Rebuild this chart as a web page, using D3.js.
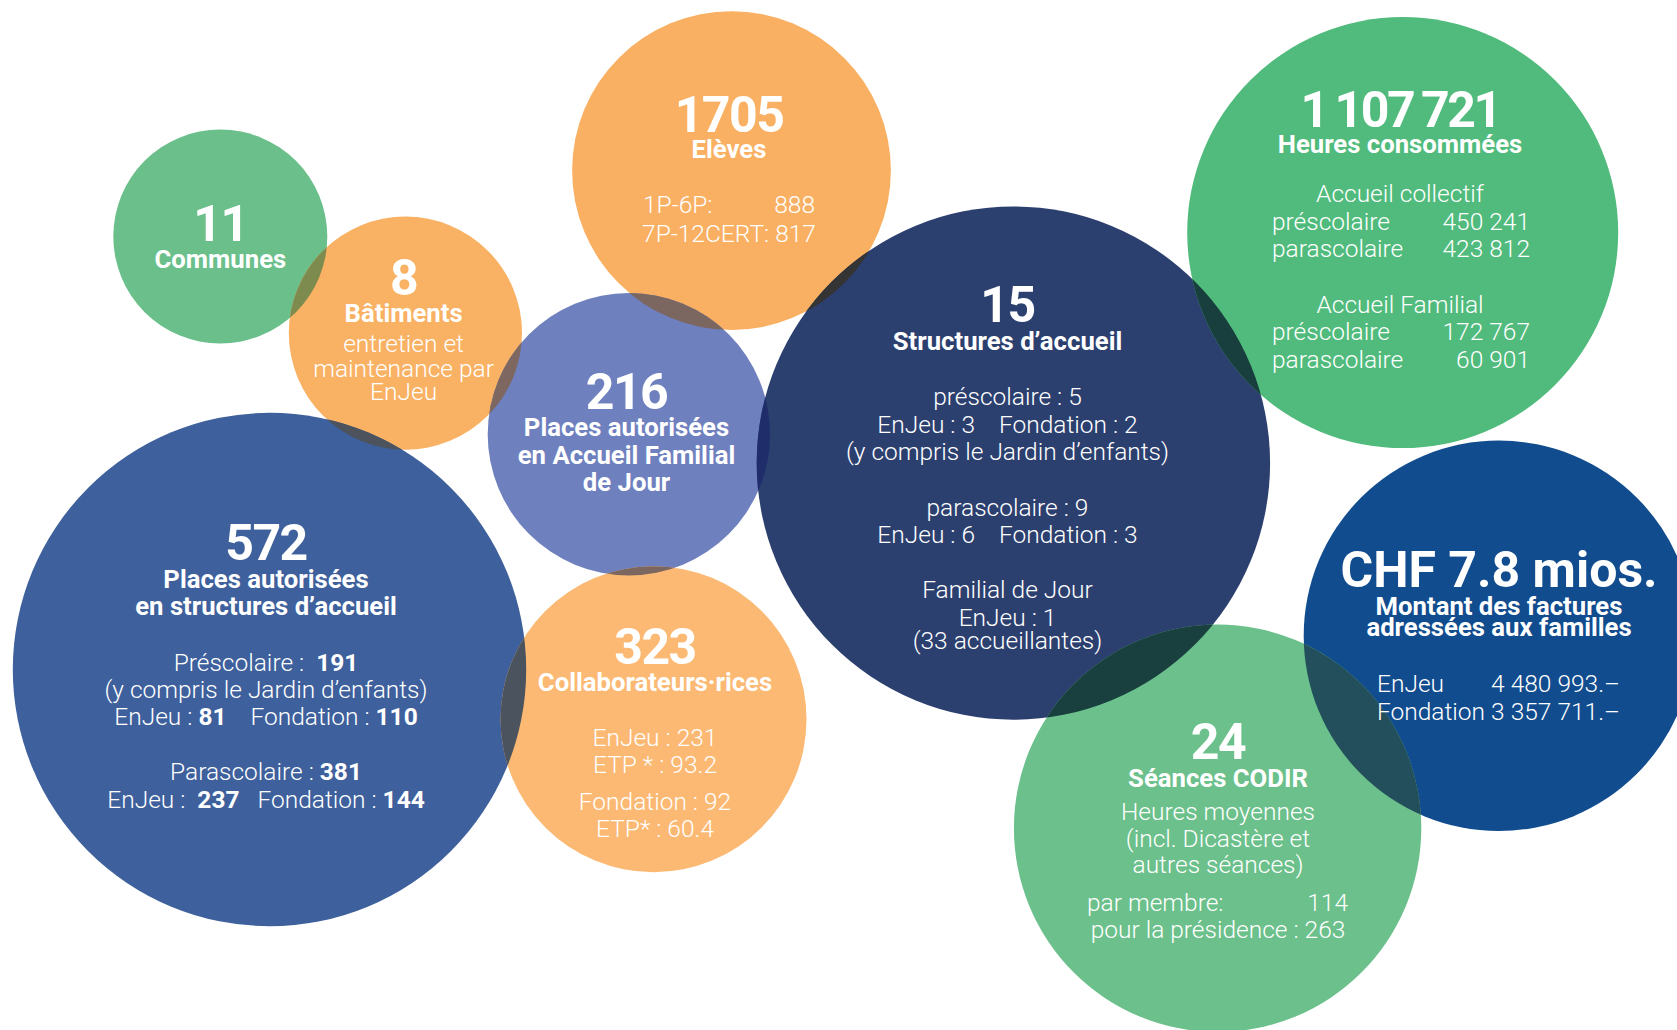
<!DOCTYPE html>
<html lang="fr">
<head>
<meta charset="utf-8">
<style>
  body { margin: 0; background: #fff; }
  svg { display: block; font-family: Roboto, 'Noto Sans', sans-serif; }
  text { fill: #fff; white-space: pre; }
  .headline { font-weight: 700; font-size: 50px; }
  .title { font-weight: 700; font-size: 25.7px; }
  .body { font-weight: 300; font-size: 24.5px; }
</style>
</head>
<body>
<svg width="1677" height="1030"></svg>
<script src="https://d3js.org/d3.v7.min.js"></script>
<script>
// chiffres clés
var headlines = ["11", "8", "1705", "216", "572", "323", "15", "1 107 721", "CHF 7.8 mios.", "24"];

var titles = [
  ["Communes"],
  ["Bâtiments"],
  ["Elèves"],
  ["Places autorisées", "en Accueil Familial", "de Jour"],
  ["Places autorisées", "en structures d’accueil"],
  ["Collaborateurs·rices"],
  ["Structures d’accueil"],
  ["Heures consommées"],
  ["Montant des factures", "adressées aux familles"],
  ["Séances CODIR"]
];

// **x** = gras, [gauche, droite] = deux colonnes
var details = [
  [],
  ["entretien et", "maintenance par", "EnJeu"],
  [["1P-6P:", "888"], "7P-12CERT: 817"],
  [],
  ["Préscolaire :  **191**", "(y compris le Jardin d’enfants)", "EnJeu : **81**    Fondation : **110**",
   "Parascolaire : **381**", "EnJeu :  **237**   Fondation : **144**"],
  ["EnJeu : 231", "ETP * : 93.2", "Fondation : 92", "ETP* : 60.4"],
  ["préscolaire : 5", "EnJeu : 3    Fondation : 2", "(y compris le Jardin d’enfants)",
   "parascolaire : 9", "EnJeu : 6    Fondation : 3",
   "Familial de Jour", "EnJeu : 1", "(33 accueillantes)"],
  ["Accueil collectif", ["préscolaire", "450 241"], ["parascolaire", "423 812"],
   "Accueil Familial", ["préscolaire", "172 767"], ["parascolaire", "60 901"]],
  [["EnJeu", "4 480 993.–"], ["Fondation", "3 357 711.–"]],
  ["Heures moyennes", "(incl. Dicastère et", "autres séances)", ["par membre:", "114"], "pour la présidence : 263"]
];

// mise en page des bulles (px) : centre, rayon, couleur, lignes de base du texte
var layout = [
  {cx: 220.3,  cy: 236.5, r: 107,   fill: "#6abf8b", tx: 220.4, hy: 240.7, ty: [268.3], dy: []},
  {cx: 405.4,  cy: 333.1, r: 116.6, fill: "#f9b163", tx: 403.6, hy: 295,   ty: [322.3], dy: [352.3, 376.7, 400]},
  {cx: 731.5,  cy: 170.6, r: 159.4, fill: "#f9b063", tx: 729,   hy: 131.7, ty: [158.3], dy: [213.3, 241.7], colL: 643, colR: 815},
  {cx: 628.9,  cy: 434.2, r: 141.2, fill: "#6f80bf", tx: 626.5, hy: 408.5, ty: [435.5, 463.6, 490.6], dy: []},
  {cx: 269.5,  cy: 669.5, r: 256.7, fill: "#3e609c", tx: 266,   hy: 559.6, ty: [587.6, 614.7], dy: [670.5, 697.5, 725.2, 780.3, 808.4]},
  {cx: 653.5,  cy: 719.2, r: 153,   fill: "#fbb973", tx: 655,   hy: 663.7, ty: [690.7], dy: [745.5, 772.5, 809.7, 836.8]},
  {cx: 1013.4, cy: 463.1, r: 256.7, fill: "#2c406f", tx: 1007.5, hy: 321.7, ty: [350], dy: [405, 433.1, 460.2, 515.5, 542.5, 598, 625.5, 648.5]},
  {cx: 1402.7, cy: 232.6, r: 215.5, fill: "#50bb7c", tx: 1400,  hy: 126.7, ls: -2.5, ws: -2, ty: [153.3], dy: [202.3, 230, 257.3, 313.3, 340, 368.3], colL: 1272, colR: 1530},
  {cx: 1498.9, cy: 635.8, r: 195.2, fill: "#114c8e", tx: 1499,  hy: 586.5, ls: 0, ty: [614.6, 636], dy: [691.6, 719.6], colL: 1377, colR: 1620},
  {cx: 1217.6, cy: 828.3, r: 203.7, fill: "#6bc08b", tx: 1218,  hy: 758.5, ty: [786.5], dy: [819.6, 846.8, 873.3, 911, 938.3], colL: 1087, colR: 1348}
];

// couleur des zones de recouvrement
var overlapFill = {
  "0-1": "#7e8b4e", "1-3": "#7e6760", "1-4": "#4d535d", "2-3": "#7c6660",
  "2-6": "#343434", "3-5": "#7c6660", "3-6": "#1f2d6a", "4-5": "#4b535e",
  "6-7": "#183f3d", "6-9": "#193f3e", "8-9": "#234e5c"
};

var svg = d3.select("svg");

svg.append("defs").selectAll("clipPath")
  .data(layout)
  .join("clipPath")
    .attr("id", (d, i) => "clip" + i)
  .append("circle")
    .attr("cx", d => d.cx)
    .attr("cy", d => d.cy)
    .attr("r", d => d.r);

svg.append("g")
  .attr("class", "bubbles")
  .selectAll("circle")
  .data(layout)
  .join("circle")
    .attr("cx", d => d.cx)
    .attr("cy", d => d.cy)
    .attr("r", d => d.r)
    .attr("fill", d => d.fill);

var idx = d3.range(layout.length);
var pairs = d3.cross(idx, idx).filter(p => {
  var a = layout[p[0]], b = layout[p[1]];
  return p[0] < p[1] && Math.hypot(a.cx - b.cx, a.cy - b.cy) < a.r + b.r;
});

svg.append("g")
  .attr("class", "overlaps")
  .selectAll("circle")
  .data(pairs)
  .join("circle")
    .attr("cx", p => layout[p[1]].cx)
    .attr("cy", p => layout[p[1]].cy)
    .attr("r", p => layout[p[1]].r)
    .attr("clip-path", p => "url(#clip" + p[0] + ")")
    .attr("fill", p => overlapFill[p.join("-")] || layout[p[1]].fill)
    .style("mix-blend-mode", p => overlapFill[p.join("-")] ? null : "multiply");

function addLine(g, str, x, y, anchor, cls) {
  var t = g.append("text")
    .attr("class", cls)
    .attr("x", x)
    .attr("y", y)
    .attr("text-anchor", anchor);
  str.split("**").forEach((part, k) => {
    if (part) t.append("tspan").attr("font-weight", k % 2 ? 700 : null).text(part);
  });
  return t;
}

var labels = svg.append("g").attr("class", "labels");

layout.forEach((d, i) => {
  var g = labels.append("g");
  addLine(g, headlines[i], d.tx, d.hy, "middle", "headline")
    .attr("letter-spacing", d.ls === undefined ? -1.5 : d.ls)
    .attr("word-spacing", d.ws || null);
  titles[i].forEach((t, k) => addLine(g, t, d.tx, d.ty[k], "middle", "title"));
  details[i].forEach((t, k) => {
    if (Array.isArray(t)) {
      addLine(g, t[0], d.colL, d.dy[k], "start", "body");
      addLine(g, t[1], d.colR, d.dy[k], "end", "body");
    } else {
      addLine(g, t, d.tx, d.dy[k], "middle", "body");
    }
  });
});
</script>
</body>
</html>
